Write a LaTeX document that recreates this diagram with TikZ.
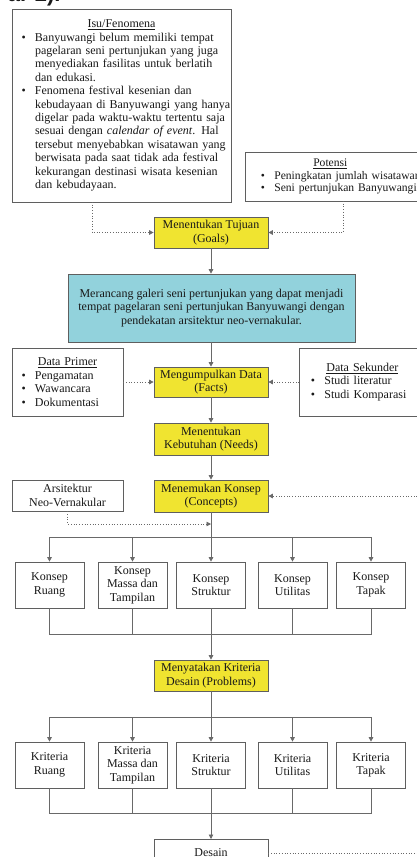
\documentclass[tikz,border=0pt]{standalone}
\usepackage{fontspec}
\setmainfont{Liberation Serif}
\setsansfont{Liberation Sans}
\usetikzlibrary{arrows.meta,calc}
\definecolor{ylw}{RGB}{240,228,48}
\definecolor{tealbox}{RGB}{146,210,220}
\definecolor{bord}{RGB}{95,95,95}
\definecolor{lne}{RGB}{105,105,105}
\newcommand\bul{\makebox[14pt][l]{\hspace{0.5pt}•}}
\newcommand\ind{\hspace*{14pt}}
\newcommand\oneline[1]{\mbox{#1}}
\begin{document}
\begin{tikzpicture}[x=1pt,y=-1pt,
  every node/.style={font=\fontsize{12}{13.4}\selectfont, text=black!90},
  box/.style={draw=bord, line width=0.7pt, fill=white, inner sep=0pt, align=center},
  ybox/.style={box, fill=ylw, minimum width=114pt},
  kbox/.style={box, minimum width=69pt, minimum height=46pt},
  conn/.style={draw=lne, line width=0.8pt, -{Triangle[length=4.5pt,width=4.5pt]}},
  plain/.style={draw=lne, line width=0.8pt},
  dots/.style={draw=lne, line width=0.7pt, dotted},
  dotarr/.style={dots, -{Triangle[length=4.5pt,width=4.5pt]}}]
\useasboundingbox (0,0) rectangle (417,857);
\fill[white] (0,0) rectangle (417,857);
\clip (0,0) rectangle (417,857);

\node[font=\sffamily\bfseries\fontsize{22}{24}\selectfont, anchor=base east] (capfrag) at (64,1.5) {ar 2).};

% Isu / Fenomena
\node[box, minimum width=219pt, minimum height=193pt, text width=201pt, inner xsep=9pt, align=left] (isu) at (121.5,105.5) {%
\makebox[201pt][c]{\underline{Isu/Fenomena}}\\
\oneline{\bul Banyuwangi belum memiliki tempat}\\
\oneline{\ind pagelaran seni pertunjukan yang juga}\\
\oneline{\ind menyediakan fasilitas untuk berlatih}\\
\oneline{\ind dan edukasi.}\\
\oneline{\bul Fenomena festival kesenian dan}\\
\oneline{\ind kebudayaan di Banyuwangi yang hanya}\\
\oneline{\ind digelar pada waktu-waktu tertentu saja}\\
\oneline{\ind sesuai dengan \textit{calendar of event}. Hal}\\
\oneline{\ind tersebut menyebabkan wisatawan yang}\\
\oneline{\ind berwisata pada saat tidak ada festival}\\
\oneline{\ind kekurangan destinasi wisata kesenian}\\
\oneline{\ind dan kebudayaan.}};

% Potensi
\node[box, anchor=north west, minimum width=200pt, minimum height=49pt, text width=170pt, inner xsep=15pt, align=left, font=\fontsize{11.6}{12.5}\selectfont] (potensi) at (245,152) {%
\makebox[140pt][c]{\underline{Potensi}}\\
\oneline{\bul Peningkatan jumlah wisatawan}\\
\oneline{\bul Seni pertunjukan Banyuwangi}};

% main yellow steps
\node[ybox, minimum height=31pt] (goals) at (211,232.5) {Menentukan Tujuan\\(Goals)};
\node[box, fill=tealbox, minimum width=287pt, minimum height=68pt] (teal) at (211.5,308) {Merancang galeri seni pertunjukan yang dapat menjadi\\tempat pagelaran seni pertunjukan Banyuwangi dengan\\pendekatan arsitektur neo-vernakular.};
\node[ybox, minimum height=30pt] (facts) at (211,382) {Mengumpulkan Data\\(Facts)};
\node[ybox, minimum height=32pt] (needs) at (211,439) {Menentukan\\Kebutuhan (Needs)};
\node[ybox, minimum height=32pt] (concepts) at (211,496) {Menemukan Konsep\\(Concepts)};
\node[ybox, minimum height=31pt] (problems) at (211,675.5) {Menyatakan Kriteria\\Desain (Problems)};

% data boxes
\node[box, minimum width=111pt, minimum height=68pt, text width=93pt, inner xsep=9pt, align=left] (primer) at (67.5,382) {%
\makebox[93pt][c]{\underline{Data Primer}}\\
\bul Pengamatan\\
\bul Wawancara\\
\bul Dokumentasi};
\node[box, anchor=west, minimum width=132pt, minimum height=68pt, text width=110pt, inner xsep=11pt, align=left] (sekunder) at (299,382) {%
\makebox[104pt][c]{\underline{Data Sekunder}}\\
\bul Studi literatur\\
\bul Studi Komparasi};

\node[box, minimum width=111pt, minimum height=31pt] (ars) at (67.5,495.5) {Arsitektur\\Neo-Vernakular};

% konsep boxes
\node[kbox] (k1) at (49.5,585) {Konsep\\Ruang};
\node[kbox] (k2) at (132.5,585) {Konsep\\Massa dan\\Tampilan};
\node[kbox] (k3) at (211,585) {Konsep\\Struktur};
\node[kbox] (k4) at (292.5,585) {Konsep\\Utilitas};
\node[kbox] (k5) at (371,585) {Konsep\\Tapak};

% kriteria boxes
\node[kbox] (r1) at (49.5,765) {Kriteria\\Ruang};
\node[kbox] (r2) at (132.5,765) {Kriteria\\Massa dan\\Tampilan};
\node[kbox] (r3) at (211,765) {Kriteria\\Struktur};
\node[kbox] (r4) at (292.5,765) {Kriteria\\Utilitas};
\node[kbox] (r5) at (371,765) {Kriteria\\Tapak};

% desain
\node[box, minimum width=114pt, minimum height=40pt, anchor=north] (desain) at (211,839) {};
\node[anchor=base] (desaintxt) at (211,856.5) {Desain};

% connectors
\coordinate (isuout) at (92,202);
\coordinate (potout) at (343,201);
\draw[dotarr] (isuout) |- (goals.west);
\draw[dotarr] (potout) |- (goals.east);
\draw[conn] (goals.south) -- (goals.south |- teal.north);
\draw[conn] (teal.south -| facts.north) -- (facts.north);
\draw[dotarr] (primer.east) -- (facts.west);
\draw[dotarr] (sekunder.west) -- (facts.east);
\draw[conn] (facts) -- (needs);
\draw[conn] (needs) -- (concepts);
\coordinate (rin) at (417,496);
\draw[dotarr] (rin) -- (concepts.east);
\coordinate (arsj) at (211,524);
\draw[dotarr] (ars.south) |- (arsj);

\coordinate (s1) at (211,537);
\draw[conn] (concepts.south) -- (k3.north);
\draw[plain] (k1.north |- s1) -- (k5.north |- s1);
\foreach \k in {k1,k2,k4,k5} \draw[conn] (\k.north |- s1) -- (\k.north);
\coordinate (j1) at (211,634);
\draw[plain] (k1.south) -- (k1.south |- j1) -- (k5.south |- j1) -- (k5.south);
\draw[plain] (k2.south) -- (k2.south |- j1);
\draw[plain] (k4.south) -- (k4.south |- j1);
\draw[conn] (k3.south) -- (problems.north);

\coordinate (s2) at (211,717);
\draw[conn] (problems.south) -- (r3.north);
\draw[plain] (r1.north |- s2) -- (r5.north |- s2);
\foreach \k in {r1,r2,r4,r5} \draw[conn] (\k.north |- s2) -- (\k.north);
\coordinate (j2) at (211,813);
\draw[plain] (r1.south) -- (r1.south |- j2) -- (r5.south |- j2) -- (r5.south);
\draw[plain] (r2.south) -- (r2.south |- j2);
\draw[plain] (r4.south) -- (r4.south |- j2);
\draw[conn] (r3.south) -- (desain.north);

\coordinate (dout) at (417,853);
\draw[dots] ($(desain.north east)+(0,14)$) -- (dout);
\end{tikzpicture}
\end{document}
